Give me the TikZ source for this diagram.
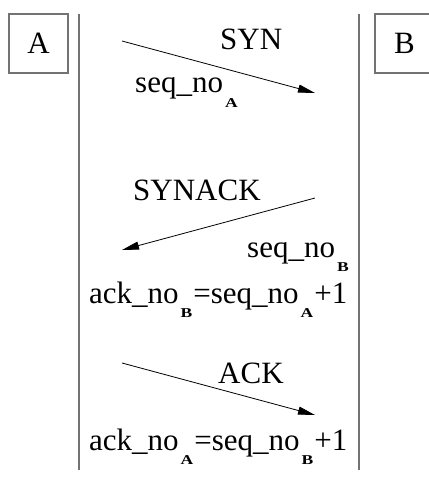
\documentclass[tikz,border=0pt]{standalone}
\usepackage{fontspec}
\usepackage{graphicx}
\setmainfont{Liberation Serif}
\usetikzlibrary{arrows.meta}
\definecolor{lifegray}{gray}{0.45}
\newcommand{\lowsub}[1]{\hspace{2pt}\raisebox{-14.5pt}{\scalebox{1.3}[1]{\fontsize{13.5}{14}\selectfont\bfseries #1}}\hspace{1pt}}
\tikzset{
  party/.style={draw=lifegray, line width=1.2pt, minimum width=59pt, minimum height=59pt, inner sep=0pt},
  lifeline/.style={draw=lifegray, line width=1.5pt},
  msg/.style={line width=0.8pt, -{Triangle[length=17pt,width=8pt]}},
  lbl/.style={anchor=base west, inner sep=0pt}
}
\begin{document}
\begin{tikzpicture}[x=1pt, y=-1pt, font=\fontsize{31}{36}\selectfont]
\useasboundingbox (0,0) rectangle (428,481);
\node[party] (a) at (38.5,43.5) {A};
\node[party] (b) at (404.5,43.5) {B};
\coordinate (a top) at (79,14);
\coordinate (a end) at (79,470);
\coordinate (b top) at (359,14);
\coordinate (b end) at (359,470);
\draw[lifeline] (a top) -- (a end);
\draw[lifeline] (b top) -- (b end);
\coordinate (syn from) at (122,41);
\coordinate (syn to) at (315,93);
\coordinate (synack from) at (315,198);
\coordinate (synack to) at (122,250);
\coordinate (ack from) at (122,363);
\coordinate (ack to) at (315,415);
\draw[msg] (syn from) -- (syn to);
\draw[msg] (synack from) -- (synack to);
\draw[msg] (ack from) -- (ack to);
\node[lbl] (syn) at (220,50) {SYN};
\node[lbl] (seqa) at (135,93) {seq\_no\lowsub{A}};
\node[lbl] (synack) at (133,200) {SYNACK};
\node[lbl] (seqb) at (247,257) {seq\_no\lowsub{B}};
\node[lbl] (ackb) at (89,303) {ack\_no\lowsub{B}=seq\_no\lowsub{A}+1};
\node[lbl] (ack) at (218,383) {ACK};
\node[lbl] (acka) at (89,450) {ack\_no\lowsub{A}=seq\_no\lowsub{B}+1};
\end{tikzpicture}
\end{document}
